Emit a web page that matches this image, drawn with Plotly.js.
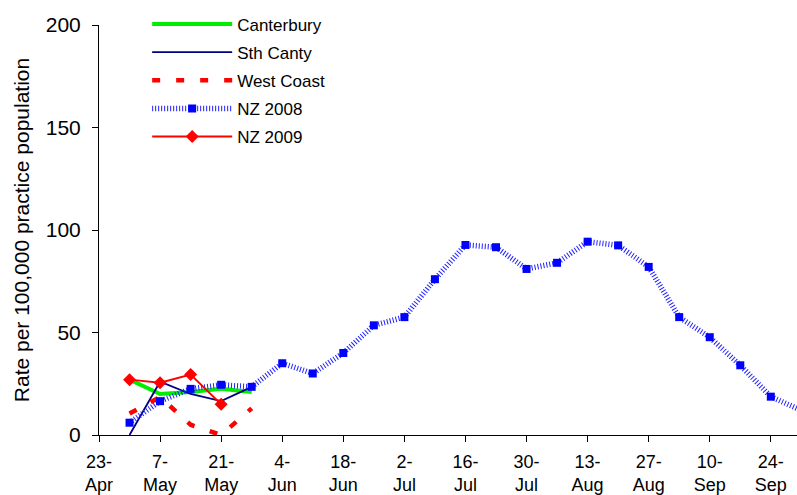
<!DOCTYPE html>
<html>
<head>
<meta charset="utf-8">
<script src="https://cdn.plot.ly/plotly-3.0.1.min.js"></script>
<style>
  html, body { margin: 0; padding: 0; background: #ffffff; }
  #chart { width: 797px; height: 495px; }
</style>
</head>
<body>
<div id="chart"></div>
<script>
// ---- data ----
const weeks2009 = ['2009-04-30', '2009-05-07', '2009-05-14', '2009-05-21', '2009-05-28'];
const canterbury = [27, 20, 21, 22.5, 21];
const sthCanty = [0, 26, 20, 16.5, 23.5];
const westCoast = [10.5, 18.5, 5, 0, 13];
const nz2009Weeks = ['2009-04-30', '2009-05-07', '2009-05-14', '2009-05-21'];
const nz2009 = [27, 25.5, 29.5, 15];
const nz2008Weeks = ['2009-04-30', '2009-05-07', '2009-05-14', '2009-05-21', '2009-05-28',
  '2009-06-04', '2009-06-11', '2009-06-18', '2009-06-25', '2009-07-02', '2009-07-09',
  '2009-07-16', '2009-07-23', '2009-07-30', '2009-08-06', '2009-08-13', '2009-08-20',
  '2009-08-27', '2009-09-03', '2009-09-10', '2009-09-17', '2009-09-24', '2009-10-01'];
const nz2008 = [6, 16.5, 22.5, 24.5, 23.5, 35, 30, 40, 53.5, 57.5, 76, 92.7, 91.6,
  81, 84, 94.3, 92.5, 82, 57.5, 47.7, 34, 18.7, 12];
const tickDates = ['2009-04-23', '2009-05-07', '2009-05-21', '2009-06-04', '2009-06-18',
  '2009-07-02', '2009-07-16', '2009-07-30', '2009-08-13', '2009-08-27', '2009-09-10', '2009-09-24'];
const tickLabels = ['23-<br>Apr', '7-<br>May', '21-<br>May', '4-<br>Jun', '18-<br>Jun',
  '2-<br>Jul', '16-<br>Jul', '30-<br>Jul', '13-<br>Aug', '27-<br>Aug', '10-<br>Sep', '24-<br>Sep'];
const seriesNames = ['Canterbury', 'Sth Canty', 'West Coast', 'NZ 2008', 'NZ 2009'];
const yTitle = 'Rate per 100,000 practice population';

const FONT = 'Liberation Sans, Arial, sans-serif';

const traces = [
  { x: weeks2009, y: canterbury, name: seriesNames[0], legendgroup: 'a', mode: 'lines',
    line: { color: '#00ee00', width: 4 } },
  { x: weeks2009, y: sthCanty, name: seriesNames[1], legendgroup: 'b', mode: 'lines',
    line: { color: '#000080', width: 1.8 } },
  { x: weeks2009, y: westCoast, name: seriesNames[2], legendgroup: 'c', mode: 'lines',
    line: { color: '#ff0000', width: 4.5, dash: '8px,16px' } },
  { x: nz2008Weeks, y: nz2008, name: seriesNames[3], legendgroup: 'd', mode: 'lines+markers',
    line: { color: '#2020ff', width: 5.5, dash: '1px,2px' },
    marker: { symbol: 'square', size: 8, color: '#0000ff' } },
  { x: nz2009Weeks, y: nz2009, name: seriesNames[4], legendgroup: 'e', mode: 'lines+markers',
    line: { color: '#ff0000', width: 1.8 },
    marker: { symbol: 'diamond', size: 10, color: '#ff0000' } }
];

const layout = {
  width: 797, height: 495,
  margin: { l: 99, r: 0, t: 25, b: 60, pad: 0 },
  paper_bgcolor: '#ffffff', plot_bgcolor: '#ffffff',
  font: { family: FONT, color: '#000000' },
  showlegend: true,
  legend: {
    x: 0.069, y: 1.045, xanchor: 'left', yanchor: 'top',
    font: { family: FONT, size: 17, color: '#000000' },
    bgcolor: 'rgba(0,0,0,0)', itemwidth: 80, traceorder: 'grouped', tracegroupgap: 3
  },
  xaxis: {
    type: 'date', range: ['2009-04-23', '2009-09-30'],
    tickmode: 'array', tickvals: tickDates, ticktext: tickLabels,
    showgrid: false, zeroline: false, showline: true, linecolor: '#000000', linewidth: 1,
    ticks: 'outside', ticklen: 6, tickcolor: '#000000', ticklabelstandoff: 4,
    tickfont: { family: FONT, size: 18, color: '#000000' }
  },
  yaxis: {
    range: [0, 200], tickmode: 'linear', tick0: 0, dtick: 50,
    showgrid: false, zeroline: false, showline: true, linecolor: '#000000', linewidth: 1,
    ticks: 'outside', ticklen: 6, tickcolor: '#000000', ticklabelstandoff: 7,
    tickfont: { family: FONT, size: 21, color: '#000000' },
    title: { text: yTitle, font: { family: FONT, size: 21, color: '#000000' }, standoff: 10 }
  }
};

Plotly.newPlot('chart', traces, layout, { staticPlot: true, displayModeBar: false });
</script>
</body>
</html>
